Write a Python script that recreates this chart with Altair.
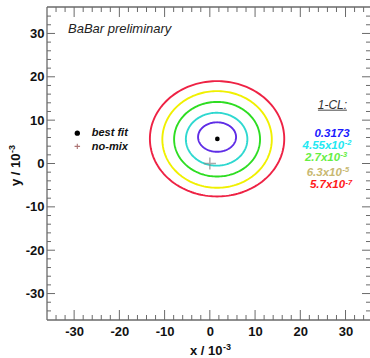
import altair as alt
import numpy as np
import pandas as pd

# Confidence-level contours in the (x, y) mixing plane, units of 1e-3
cl_base = ["0.3173", "4.55x10", "2.7x10", "6.3x10", "5.7x10"]
cl_exp = ["", "-2", "-3", "-5", "-7"]
contour_cx = [1.6, 1.5, 1.6, 1.6, 1.6]
contour_cy = [6.1, 5.6, 5.6, 5.55, 5.7]
contour_rx = [4.2, 6.8, 9.5, 12.1, 14.85]
contour_ry = [3.4, 6.1, 8.6, 11.15, 13.3]
contour_colors = ["#5f2de6", "#2fd8d0", "#2edd22", "#f0f000", "#ee2244"]
label_colors = ["#1a1aff", "#22e8f2", "#66ee44", "#c8b870", "#ff1a1a"]
# legend row positions (y) and where mantissa meets exponent (x)
label_y = [6.7, 4.05, 1.3, -2.1, -5.0]
label_join = [30.9, 29.7, 28.8, 29.2, 29.9]

best_fit = {"x": 1.66, "y": 5.67}
no_mix = {"x": 0.0, "y": 0.0}

major_ticks = [-30, -20, -10, 0, 10, 20, 30]
minor_ticks = [v for v in range(-34, 35, 2) if v % 10 != 0]

X_DOMAIN = [-36, 35.41]
Y_DOMAIN = [-36.1, 36.1]
W, H = 323, 313
FONT = "Liberation Sans"
FRAME = "#6a6a6a"

x_axis = alt.Axis(values=major_ticks, ticks=False, domain=False, grid=False,
                  labelExpr="'' + datum.value", labelFont=FONT, labelFontSize=13,
                  labelFontWeight="bold", labelColor="#111", labelPadding=5, title=None)
y_axis = alt.Axis(values=major_ticks, ticks=False, domain=False, grid=False,
                  labelExpr="'' + datum.value", labelFont=FONT, labelFontSize=13,
                  labelFontWeight="bold", labelColor="#111", labelPadding=3, title=None)


def X(field="x"):
    return alt.X(f"{field}:Q", scale=alt.Scale(domain=X_DOMAIN, nice=False, zero=False), axis=x_axis)


def Y(field="y"):
    return alt.Y(f"{field}:Q", scale=alt.Scale(domain=Y_DOMAIN, nice=False, zero=False), axis=y_axis)


# one closed ellipse per confidence level, traced as a path
t = np.linspace(0, 2 * np.pi, 181)
contour_layers = []
for k, (cx, cy, rx, ry, col) in enumerate(zip(contour_cx, contour_cy, contour_rx, contour_ry, contour_colors)):
    ring = pd.DataFrame({"ring": k, "i": np.arange(len(t)),
                         "x": np.round(cx + rx * np.cos(t), 4), "y": np.round(cy + ry * np.sin(t), 4)})
    contour_layers.append(
        alt.Chart(ring).mark_line(strokeWidth=1.9, color=col, clip=False).encode(x=X(), y=Y(), order="i:Q")
    )

# frame (left, top, bottom) and inward ticks on all four sides
one = alt.Data(values=[{}])
frame = alt.layer(
    alt.Chart(one).mark_rule(color=FRAME, strokeWidth=1.3).encode(x=alt.value(0), y=alt.value(0), y2=alt.value(H)),
    alt.Chart(one).mark_rule(color=FRAME, strokeWidth=1.3).encode(x=alt.value(0), x2=alt.value(W + 2), y=alt.value(0)),
    alt.Chart(one).mark_rule(color=FRAME, strokeWidth=1.3).encode(x=alt.value(0), x2=alt.value(W + 2), y=alt.value(H)),
)

major_df = pd.DataFrame({"v": major_ticks})
minor_df = pd.DataFrame({"v": minor_ticks})


def tick_layers(df, ylen, xlen):
    base = alt.Chart(df).mark_rule(color=FRAME, strokeWidth=1)
    return [
        base.encode(y=Y("v"), x=alt.value(0), x2=alt.value(ylen)),
        base.encode(y=Y("v"), x=alt.value(W), x2=alt.value(W - ylen)),
        base.encode(x=X("v"), y=alt.value(0), y2=alt.value(xlen)),
        base.encode(x=X("v"), y=alt.value(H), y2=alt.value(H - xlen)),
    ]


ticks = tick_layers(major_df, 8, 10) + tick_layers(minor_df, 4, 5)

bf = alt.Chart(pd.DataFrame([best_fit])).mark_circle(color="black", size=22, opacity=1).encode(x=X(), y=Y())
nm = alt.Chart(pd.DataFrame([no_mix])).mark_point(
    shape="M-1,0L1,0M0,-1L0,1", size=150, color="#888888", strokeWidth=1.5, filled=False
).encode(x=X(), y=Y())

# axis titles with raised exponents
title_style = dict(font=FONT, fontWeight="bold", color="#111")
x_title = alt.layer(
    alt.Chart(one).mark_text(text="x / 10", fontSize=13, align="right", baseline="alphabetic", **title_style)
    .encode(x=alt.value(175.5), y=alt.value(H + 35)),
    alt.Chart(one).mark_text(text="-3", fontSize=9, align="left", baseline="alphabetic", dy=-5, **title_style)
    .encode(x=alt.value(176), y=alt.value(H + 35)),
)
y_title = alt.layer(
    alt.Chart(one).mark_text(text="y / 10", fontSize=13, angle=270, align="right", baseline="alphabetic", **title_style)
    .encode(x=alt.value(-27), y=alt.value(146.5)),
    alt.Chart(one).mark_text(text="-3", fontSize=9, angle=270, align="left", baseline="alphabetic", dy=-5, **title_style)
    .encode(x=alt.value(-27), y=alt.value(146)),
)

header = alt.Chart(pd.DataFrame({"x": [-31.35], "y": [30.0], "t": ["BaBar preliminary"]})).mark_text(
    font=FONT, fontSize=13, fontStyle="italic", align="left", baseline="alphabetic", color="#222"
).encode(x=X(), y=Y(), text="t:N")

legend_text = alt.Chart(pd.DataFrame({"x": [-26.1, -26.1], "y": [7.0, 3.85], "t": ["best fit", "no-mix"]})).mark_text(
    font=FONT, fontSize=11, fontStyle="italic", fontWeight="bold", align="left", baseline="middle", color="#111"
).encode(x=X(), y=Y(), text="t:N")
legend_dot = alt.Chart(pd.DataFrame({"x": [-29.3], "y": [7.0]})).mark_circle(color="black", size=28, opacity=1).encode(x=X(), y=Y())
legend_plus = alt.Chart(pd.DataFrame({"x": [-29.3], "y": [3.95]})).mark_point(
    shape="M-1,0L1,0M0,-1L0,1", size=30, color="#8b3a3a", strokeWidth=1.1, filled=False
).encode(x=X(), y=Y())

cl_head = alt.Chart(pd.DataFrame({"x": [27.1], "y": [13.4], "t": ["1-CL:"]})).mark_text(
    font=FONT, fontSize=12, fontStyle="italic", align="center", baseline="middle", color="#333"
).encode(x=X(), y=Y(), text="t:N")
cl_line = alt.Chart(pd.DataFrame({"x": [23.9], "x2": [30.3], "y": [12.3]})).mark_rule(
    color="#333", strokeWidth=0.9
).encode(x=X(), x2="x2:Q", y=Y())

cl_df = pd.DataFrame({"x": label_join, "y": label_y, "base": cl_base, "exp": cl_exp, "c": label_colors})
cl_text = alt.Chart(cl_df).mark_text(
    font=FONT, fontSize=11.5, fontStyle="italic", fontWeight="bold", align="right", baseline="middle"
).encode(x=X(), y=Y(), text="base:N", color=alt.Color("c:N", scale=None))
cl_sup = alt.Chart(cl_df).mark_text(
    font=FONT, fontSize=7.5, fontStyle="italic", fontWeight="bold", align="left", baseline="middle", dx=0.5, dy=-2.5
).encode(x=X(), y=Y(), text="exp:N", color=alt.Color("c:N", scale=None))

chart = alt.layer(
    *contour_layers, frame, *ticks, nm, bf, x_title, y_title, header, legend_dot, legend_plus, legend_text,
    cl_head, cl_line, cl_text, cl_sup
).properties(
    width=W, height=H, autosize="none", background="white",
    padding={"left": 47, "top": 7, "right": 0, "bottom": 38},
).configure_view(stroke=None)

chart.save("out.html", embed_options={"renderer": "svg", "actions": False})
